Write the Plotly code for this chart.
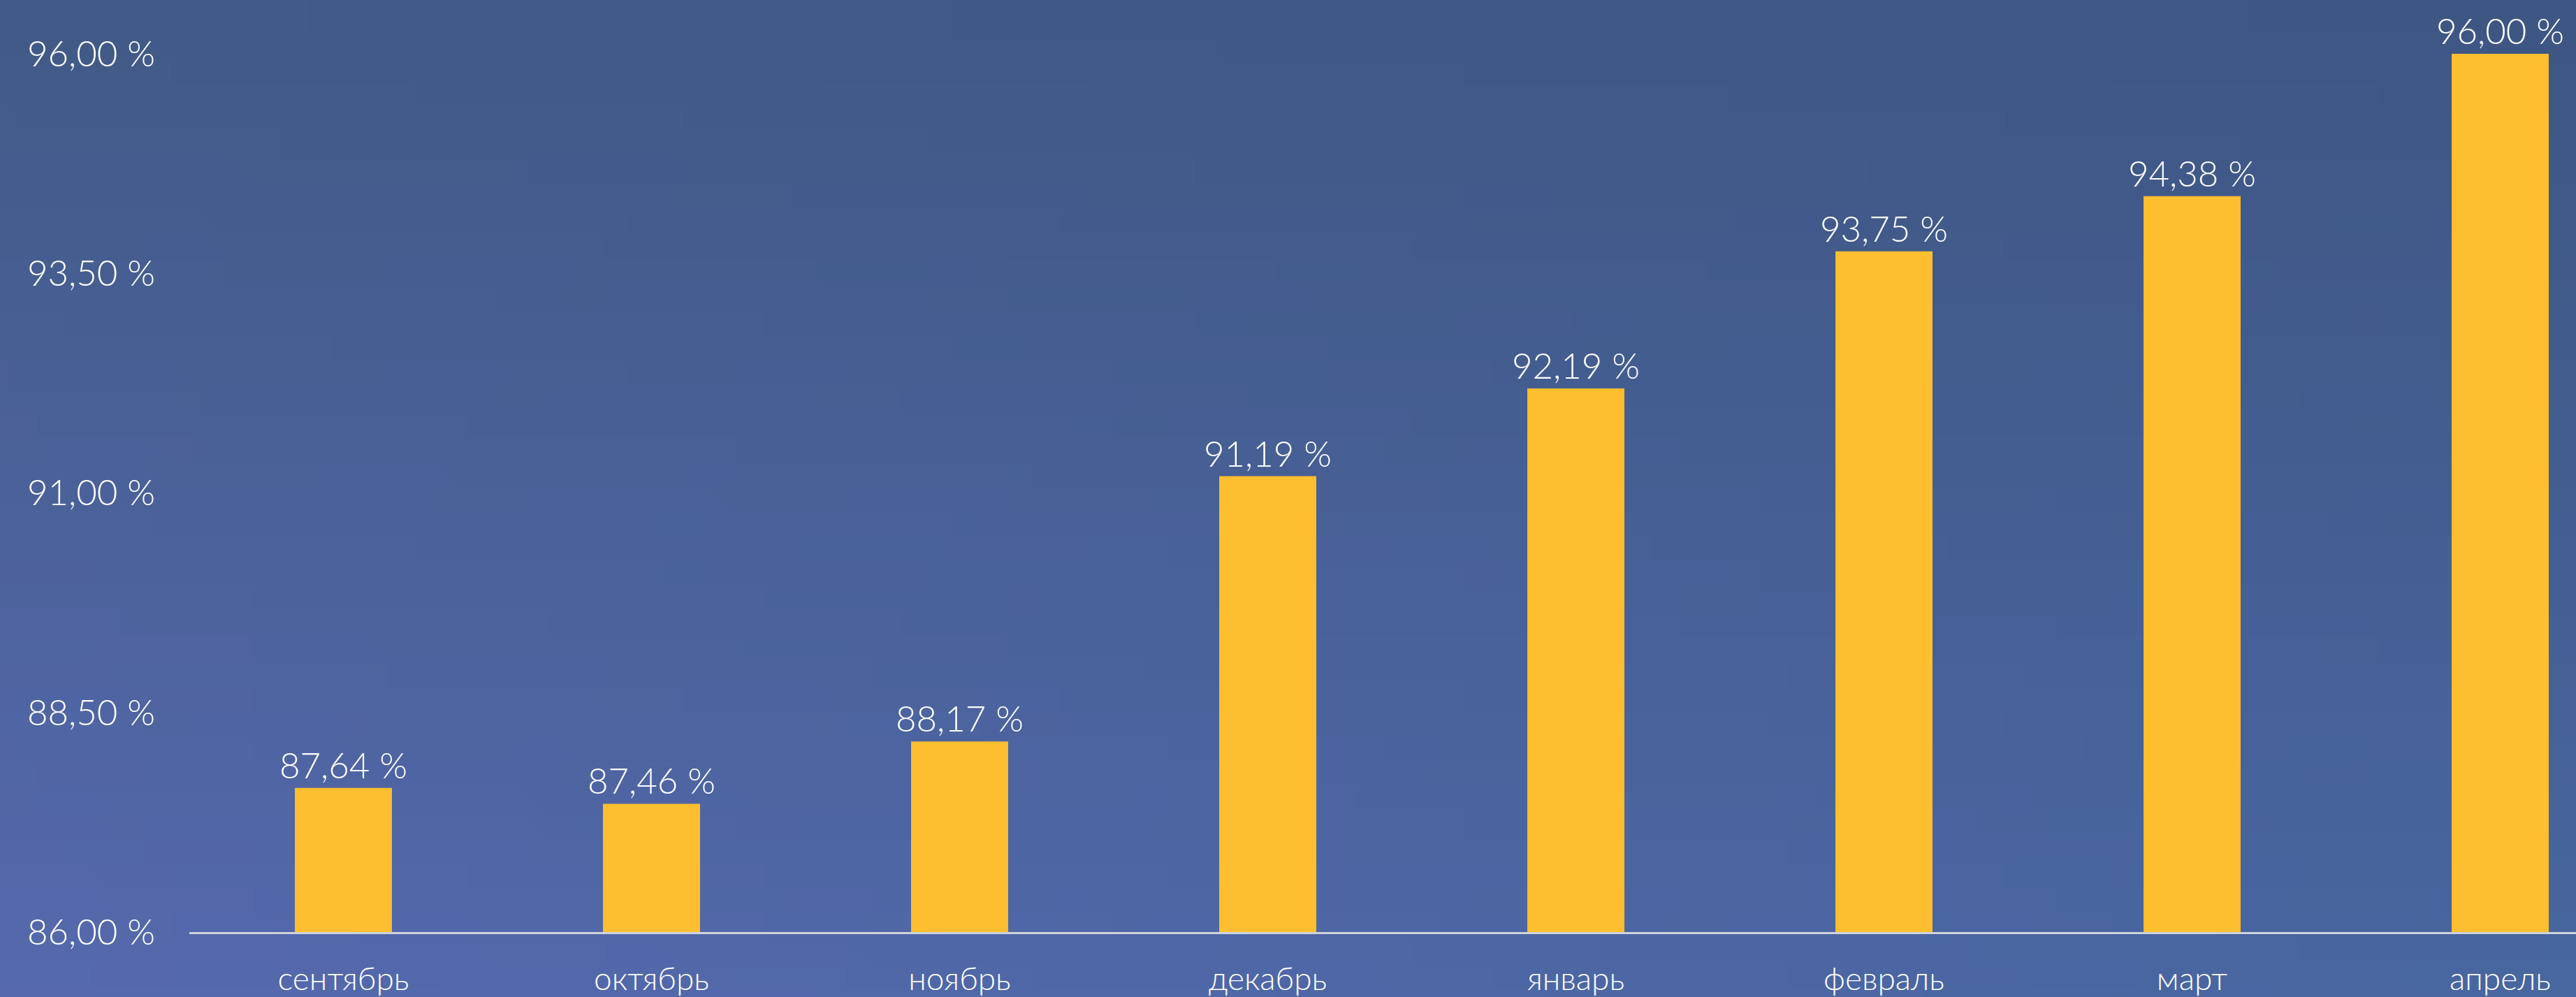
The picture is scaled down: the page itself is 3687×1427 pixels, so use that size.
import base64
import struct
import zlib

import plotly.graph_objects as go

# ---------------- data ----------------
months = ["сентябрь", "октябрь", "ноябрь", "декабрь", "январь", "февраль", "март", "апрель"]
values = [87.64, 87.46, 88.17, 91.19, 92.19, 93.75, 94.38, 96.00]
value_labels = ["87,64 %", "87,46 %", "88,17 %", "91,19 %", "92,19 %", "93,75 %", "94,38 %", "96,00 %"]
y_ticks = [86.0, 88.5, 91.0, 93.5, 96.0]
y_tick_labels = ["86,00 %", "88,50 %", "91,00 %", "93,50 %", "96,00 %"]

# ---------------- layout constants ----------------
W, H = 3687, 1427
ML, MR, MT, MB = 271, 0, 0, 93
PW, PH = W - ML - MR, H - MT - MB
FONT = "Lato, 'Open Sans', sans-serif"
WEIGHT = 300
BAR_COLOR = "#FDBF2F"
PX_PER_UNIT = (PH - 77) / 10.0


def gradient_png(w, h, tl, tr, bl, br):
    """Small PNG with a bilinear 4-corner gradient for the page background."""
    rows = []
    for j in range(h):
        v = j / (h - 1)
        row = bytearray([0])
        for i in range(w):
            u = i / (w - 1)
            px = []
            for c in range(3):
                top = tl[c] * (1 - u) + tr[c] * u
                bot = bl[c] * (1 - u) + br[c] * u
                px.append(int(round(top * (1 - v) + bot * v)))
            row.extend(px)
        rows.append(bytes(row))
    raw = b"".join(rows)

    def chunk(tag, data):
        c = struct.pack(">I", len(data)) + tag + data
        return c + struct.pack(">I", zlib.crc32(tag + data) & 0xFFFFFFFF)

    png = b"\x89PNG\r\n\x1a\n"
    png += chunk(b"IHDR", struct.pack(">IIBBBBB", w, h, 8, 2, 0, 0, 0))
    png += chunk(b"IDAT", zlib.compress(raw, 9))
    png += chunk(b"IEND", b"")
    return "data:image/png;base64," + base64.b64encode(png).decode()


bg = gradient_png(96, 40,
                  (0x41, 0x5A, 0x87), (0x3E, 0x56, 0x83),
                  (0x56, 0x69, 0xAE), (0x48, 0x66, 0xA0))

fig = go.Figure()
fig.add_trace(go.Bar(
    x=months,
    y=values,
    text=value_labels,
    textposition="outside",
    textfont=dict(family=FONT, size=51, color="white", weight=WEIGHT),
    constraintext="none",
    cliponaxis=False,
    marker=dict(color=BAR_COLOR, line=dict(width=0)),
    hoverinfo="skip",
))

fig.update_layout(
    width=W,
    height=H,
    margin=dict(l=ML, r=MR, t=MT, b=MB, pad=0),
    paper_bgcolor="#45608f",
    plot_bgcolor="rgba(0,0,0,0)",
    bargap=0.685,
    showlegend=False,
    font=dict(family=FONT, color="white", weight=WEIGHT),
    images=[dict(
        source=bg,
        xref="paper", yref="paper",
        x=-ML / PW - 0.002, y=1 + MT / PH + 0.004,
        sizex=W / PW + 0.004, sizey=H / PH + 0.008,
        sizing="stretch",
        xanchor="left", yanchor="top",
        layer="below",
    )],
)

fig.update_xaxes(
    range=[-0.5, -0.5 + PW / 441.0],
    showgrid=False,
    zeroline=False,
    showline=True,
    linecolor="#cfd3dc",
    linewidth=3,
    ticks="",
    ticklabelstandoff=25,
    tickfont=dict(family=FONT, size=46, color="white", weight=WEIGHT),
)

fig.update_yaxes(
    range=[86.0, 96.0 + 77 / PX_PER_UNIT],
    tickvals=y_ticks,
    ticktext=y_tick_labels,
    showgrid=False,
    zeroline=False,
    showline=False,
    ticks="",
    ticklabelstandoff=48,
    tickfont=dict(family=FONT, size=51, color="white", weight=WEIGHT),
)

fig.write_html(
    "out.html",
    config={"displayModeBar": False},
    post_script="document.body.style.margin='0';document.body.style.overflow='hidden';",
)
